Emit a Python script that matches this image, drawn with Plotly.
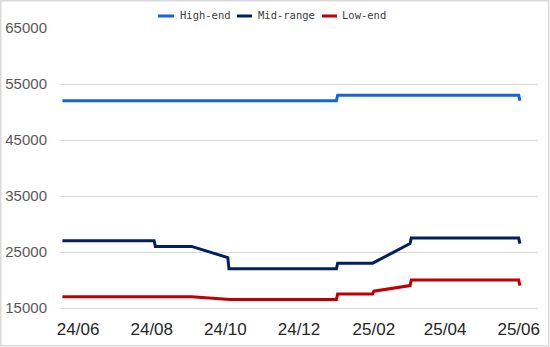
import plotly.graph_objects as go

# ---- data ----
series_names = ["High-end", "Mid-range", "Low-end"]
series_colors = ["#1565D8", "#002060", "#C00000"]

high_dates = ["2024-05-19", "2025-01-01", "2025-01-02", "2025-06-01", "2025-06-02"]
high_vals = [52000, 52000, 53000, 53000, 52000]

mid_dates = ["2024-05-19", "2024-08-03", "2024-08-04", "2024-09-03", "2024-10-03",
             "2024-10-04", "2025-01-01", "2025-01-02", "2025-01-31", "2025-03-03",
             "2025-03-04", "2025-06-01", "2025-06-02"]
mid_vals = [27000, 27000, 26000, 26000, 24000, 22000, 22000, 23000, 23000, 26500,
            27500, 27500, 26500]

low_dates = ["2024-05-19", "2024-09-03", "2024-10-05", "2025-01-01", "2025-01-02",
             "2025-01-31", "2025-02-01", "2025-03-03", "2025-03-04", "2025-06-01",
             "2025-06-02"]
low_vals = [17000, 17000, 16500, 16500, 17500, 17500, 18000, 19000, 20000, 20000, 19000]

x_ticks = ["2024-06-01", "2024-08-01", "2024-10-01", "2024-12-01",
           "2025-02-01", "2025-04-01", "2025-06-01"]
x_tick_labels = ["24/06", "24/08", "24/10", "24/12", "25/02", "25/04", "25/06"]
y_ticks = [15000, 25000, 35000, 45000, 55000, 65000]
y_tick_labels = ["15000", "25000", "35000", "45000", "55000", "65000"]

# ---- layout geometry ----
W, H = 550, 347
ML, MR, MT, MB = 60, 12, 28, 39
PW, PH = W - ML - MR, H - MT - MB


def px_x(p):
    return (p - ML) / PW


def px_y(p):
    return (H - MB - p) / PH


fig = go.Figure()
all_data = [(high_dates, high_vals), (mid_dates, mid_vals), (low_dates, low_vals)]
for (d, v), name, col in zip(all_data, series_names, series_colors):
    fig.add_trace(go.Scatter(x=d, y=v, mode="lines", name=name,
                             line=dict(color=col, width=3), showlegend=False))

# manual legend
legend_sym = [(158, 174, 178), (237, 252, 256), (322, 337, 340)]
shapes = []
annotations = []
for (s0, s1, t0), name, col in zip(legend_sym, series_names, series_colors):
    shapes.append(dict(type="line", xref="paper", yref="paper",
                       x0=px_x(s0), x1=px_x(s1), y0=px_y(16), y1=px_y(16),
                       line=dict(color=col, width=3)))
    annotations.append(dict(text=name, xref="paper", yref="paper",
                            x=px_x(t0), y=px_y(15), xanchor="left", yanchor="middle",
                            showarrow=False,
                            font=dict(family="DejaVu Sans Mono", size=10.5, color="#404040")))

# outer border
shapes.append(dict(type="rect", xref="paper", yref="paper",
                   x0=px_x(0.75), x1=px_x(W - 1.25), y0=px_y(H - 1.25), y1=px_y(0.75),
                   line=dict(color="#D9D9D9", width=1.5), layer="below"))

fig.update_layout(
    width=W, height=H,
    margin=dict(l=ML, r=MR, t=MT, b=MB, autoexpand=False),
    paper_bgcolor="white", plot_bgcolor="white",
    shapes=shapes, annotations=annotations,
    xaxis=dict(type="date", range=["2024-05-17", "2025-06-17"],
               tickvals=x_ticks, ticktext=x_tick_labels, automargin=False,
               showgrid=False, zeroline=False,
               showline=True, linecolor="#D9D9D9", linewidth=1,
               ticks="", ticklabelstandoff=6,
               tickfont=dict(family="Liberation Sans", size=17, color="#262626")),
    yaxis=dict(range=[15000, 65000], tickvals=y_ticks, ticktext=y_tick_labels,
               automargin=False,
               showgrid=True, gridcolor="#D9D9D9", gridwidth=1,
               zeroline=False, showline=False, ticks="",
               ticklabelstandoff=12,
               tickfont=dict(family="Liberation Sans", size=15, color="#595959")),
)

fig.write_html("out.html")
